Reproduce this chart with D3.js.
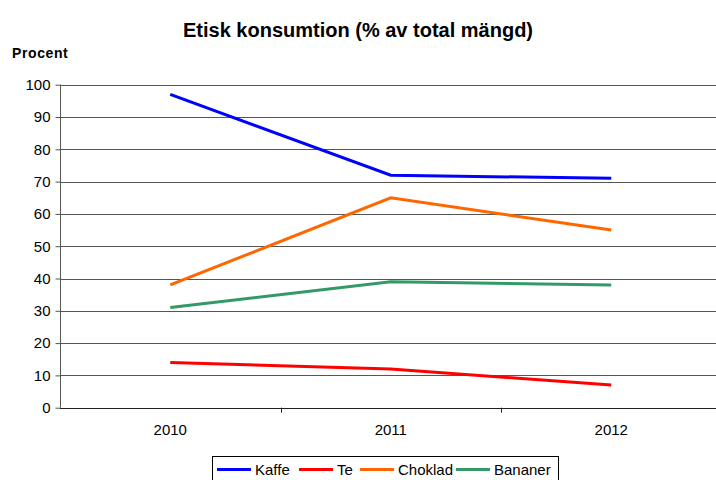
<!DOCTYPE html>
<html>
<head>
<meta charset="utf-8">
<script src="https://cdn.jsdelivr.net/npm/d3@7"></script>
<style>
  body { margin: 0; background: #fff; }
  text { font-family: "Liberation Sans", Arial, sans-serif; }
</style>
</head>
<body>
<div id="chart"></div>
<script>
// data
var years = ["2010", "2011", "2012"];
var seriesNames = ["Kaffe", "Te", "Choklad", "Bananer"];
var kaffe = [97, 72, 71];
var te = [14, 12, 7];
var choklad = [38, 65, 55];
var bananer = [31, 39, 38];
var yTicks = [0, 10, 20, 30, 40, 50, 60, 70, 80, 90, 100];

var colors = { "Kaffe": "#0000ff", "Te": "#ff0000", "Choklad": "#ff6600", "Bananer": "#339966" };
var values = { "Kaffe": kaffe, "Te": te, "Choklad": choklad, "Bananer": bananer };

var W = 716, H = 480;
var plotLeft = 60, plotRight = 721.5, plotTop = 84.7, plotBottom = 407.7;

var svg = d3.select("#chart")
    .append("svg")
    .attr("width", W)
    .attr("height", H);

var x = d3.scaleBand().domain(years).range([plotLeft, plotRight]);
var y = d3.scaleLinear().domain([0, 100]).range([plotBottom, plotTop]);

// grid
svg.append("g")
    .selectAll("line")
    .data(yTicks.filter(function (d) { return d > 0; }))
    .enter().append("line")
    .attr("x1", plotLeft).attr("x2", W)
    .attr("y1", function (d) { return Math.round(y(d)) + 0.5; })
    .attr("y2", function (d) { return Math.round(y(d)) + 0.5; })
    .attr("stroke", "#555")
    .attr("stroke-width", 1);

// y axis
var yAxis = svg.append("g")
    .attr("transform", "translate(" + (plotLeft + 0.5) + ",0)")
    .call(d3.axisLeft(y).tickValues(yTicks).tickSize(5).tickPadding(5));
yAxis.select(".domain").attr("stroke", "#555").attr("d", "M0," + plotBottom + "V" + plotTop);
yAxis.selectAll(".tick line").attr("stroke", "#555");
yAxis.selectAll("text").style("font-size", "15px").attr("fill", "#000");

// x axis
var xAxis = svg.append("g")
    .attr("transform", "translate(0," + plotBottom + ")")
    .call(d3.axisBottom(x).tickSize(0).tickPadding(17));
xAxis.select(".domain").remove();
xAxis.selectAll("text").style("font-size", "15px").attr("fill", "#000");
svg.append("line")
    .attr("x1", plotLeft).attr("x2", W)
    .attr("y1", Math.round(plotBottom) + 0.5).attr("y2", Math.round(plotBottom) + 0.5)
    .attr("stroke", "#222");
svg.append("g")
    .selectAll("line")
    .data(years)
    .enter().append("line")
    .attr("x1", function (d) { return Math.round(x(d) + x.bandwidth()) + 0.5; })
    .attr("x2", function (d) { return Math.round(x(d) + x.bandwidth()) + 0.5; })
    .attr("y1", plotBottom).attr("y2", plotBottom + 5)
    .attr("stroke", "#222");

// lines
var line = d3.line()
    .x(function (d, i) { return x(years[i]) + x.bandwidth() / 2; })
    .y(function (d) { return y(d); });

seriesNames.forEach(function (s) {
    svg.append("path")
        .datum(values[s])
        .attr("d", line)
        .attr("fill", "none")
        .attr("stroke", colors[s])
        .attr("stroke-width", 3);
});

// title
svg.append("text")
    .attr("x", 358).attr("y", 37)
    .attr("text-anchor", "middle")
    .attr("font-weight", "bold")
    .style("font-size", "20px")
    .text("Etisk konsumtion (% av total mängd)");

svg.append("text")
    .attr("x", 12).attr("y", 58)
    .attr("font-weight", "bold")
    .style("font-size", "14px")
    .style("letter-spacing", "0.6px")
    .text("Procent");

// legend
var legend = svg.append("g");
legend.append("rect")
    .attr("x", 212.5).attr("y", 456.5)
    .attr("width", 346).attr("height", 30)
    .attr("fill", "#fff").attr("stroke", "#000");
var lx = [217, 299, 360, 456];
seriesNames.forEach(function (s, i) {
    legend.append("line")
        .attr("x1", lx[i]).attr("x2", lx[i] + 34)
        .attr("y1", 469.5).attr("y2", 469.5)
        .attr("stroke", colors[s]).attr("stroke-width", 3);
    legend.append("text")
        .attr("x", lx[i] + 38).attr("y", 475)
        .style("font-size", "15px")
        .text(s);
});
</script>
</body>
</html>
